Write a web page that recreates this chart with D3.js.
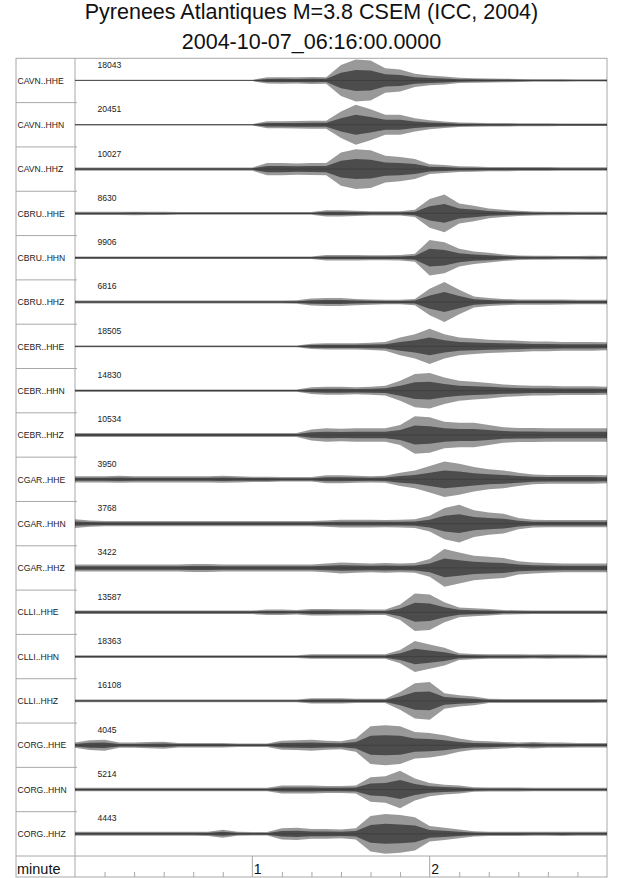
<!DOCTYPE html>
<html><head><meta charset="utf-8">
<script src="https://cdn.jsdelivr.net/npm/d3@7"></script>
<style>
html,body{margin:0;padding:0;background:#fff;}
svg{display:block;font-family:"Liberation Sans",Arial,Helvetica,sans-serif;}
</style></head>
<body>
<svg id="chart" width="640" height="878"></svg>
<script>
// ---------- data ----------
const titleLine1 = "Pyrenees Atlantiques M=3.8 CSEM (ICC, 2004)";
const titleLine2 = "2004-10-07_06:16:00.0000";
const channels = ["CAVN..HHE","CAVN..HHN","CAVN..HHZ","CBRU..HHE","CBRU..HHN","CBRU..HHZ",
  "CEBR..HHE","CEBR..HHN","CEBR..HHZ","CGAR..HHE","CGAR..HHN","CGAR..HHZ",
  "CLLI..HHE","CLLI..HHN","CLLI..HHZ","CORG..HHE","CORG..HHN","CORG..HHZ"];
const peakCounts = [18043,20451,10027,8630,9906,6816,18505,14830,10534,3950,3768,3422,13587,18363,16108,4045,5214,4443];
// time grid of the envelopes, seconds after 06:16:00
const timeSec = [0,5,10,15,20,25,30,35,40,45,50,55,60,65,70,75,80,85,90,95,100,105,110,115,120,125,130,135,140,145,150,155,160,165,170,175,180];
// trace envelope (half amplitude, % of half row height)
const envelopes = [
 [3,3,3,3,3,3,3,3,3,3,3,3,3,14,15,14,16,15,70,95,90,55,50,30,22,18,12,10,9,8,7,6,6,6,5,5,5],
 [3,3,3,3,3,3,3,3,3,3,3,3,3,16,16,17,18,18,60,90,70,45,45,30,20,15,10,9,8,8,7,7,7,6,6,6,6],
 [7,7,7,7,7,7,7,7,7,7,7,7,7,28,28,25,27,28,75,90,85,60,55,45,22,18,13,12,10,10,9,9,9,8,8,8,8],
 [7,7,7,7,8,7,7,6,6,6,6,6,6,6,6,6,6,14,14,12,10,10,10,16,65,85,45,35,22,16,12,9,8,8,7,7,7],
 [6,6,6,6,6,6,6,6,6,6,6,6,6,6,6,6,6,12,12,12,11,11,12,18,80,70,40,28,22,15,10,9,9,8,8,9,8],
 [7,7,7,7,7,7,7,7,7,7,7,7,7,7,7,8,16,18,18,14,12,10,10,14,60,90,55,25,18,14,12,12,12,11,10,10,10],
 [4,4,4,4,4,4,4,4,4,4,4,4,4,4,4,4,12,14,14,14,16,20,40,55,80,55,40,35,30,28,25,22,22,20,20,20,18],
 [5,5,5,5,5,5,5,5,5,5,5,5,5,5,5,5,15,18,18,16,18,22,45,75,80,60,45,40,35,28,25,22,22,20,20,20,18],
 [9,9,9,9,9,9,9,9,9,9,9,9,9,9,9,9,25,30,28,30,30,30,45,85,80,60,55,55,45,35,32,32,30,30,30,30,30],
 [14,14,14,16,14,14,14,14,14,14,16,14,12,12,10,10,10,18,18,16,14,16,30,40,60,80,70,55,45,40,30,22,20,20,20,20,18],
 [20,14,12,12,12,12,12,12,12,12,12,12,12,12,12,12,12,14,18,18,18,16,18,20,35,70,85,60,50,45,25,18,16,16,16,16,16],
 [16,16,16,16,16,16,16,16,18,18,16,16,16,16,16,16,16,20,25,22,20,22,20,22,40,85,70,55,50,45,30,25,22,20,20,20,20],
 [8,8,8,8,8,8,8,8,8,8,8,8,8,12,12,10,15,15,14,14,12,12,35,85,80,45,22,18,15,10,9,8,8,8,8,8,8],
 [6,6,6,6,6,6,6,6,6,6,6,6,6,6,6,6,10,10,10,10,10,10,30,70,55,40,15,12,10,10,10,9,10,9,9,8,8],
 [6,6,6,6,6,6,6,6,6,6,6,6,6,6,6,6,12,12,12,10,10,10,40,80,85,35,25,20,10,9,9,9,9,9,9,9,8],
 [12,22,25,12,12,14,16,10,10,10,10,8,8,8,20,22,25,20,18,30,85,90,85,60,55,45,30,20,18,15,12,15,12,12,10,10,10],
 [8,8,8,8,8,8,8,8,8,8,8,8,8,8,18,18,18,16,16,18,55,60,85,50,30,22,18,10,9,9,9,8,8,8,8,8,8],
 [9,9,9,9,9,9,9,9,9,10,18,9,8,8,25,28,22,22,20,25,80,90,85,75,35,28,20,12,10,10,10,9,9,10,9,9,9]
];
const minuteTicks = [1, 2];
const minuteTickLabels = ["1", "2"];
const minorTickSec = [10,20,30,40,50,70,80,90,100,110,130,140,150,160,170];

// ---------- layout ----------
const svg = d3.select("#chart");
const frameL = 16, frameR = 607, frameT = 58.3, axisTop = 856, frameB = 877, labelR = 75;
const rowH = (axisTop - frameT) / channels.length;
const gridColor = "#a8a8a8";

// title
svg.append("text").attr("x", 311.5).attr("y", 19).attr("text-anchor", "middle")
  .attr("font-size", 21.5).attr("fill", "#111").text(titleLine1);
svg.append("text").attr("x", 311.5).attr("y", 48.5).attr("text-anchor", "middle")
  .attr("font-size", 21.5).attr("fill", "#111").text(titleLine2);

// scales
const x = d3.scaleLinear().domain([0, 180]).range([labelR, frameR]);
const rowScale = d3.scaleBand().domain(channels).range([frameT, axisTop]).padding(0);
const amp = d3.scaleLinear().domain([-100, 100]).range([rowH / 2, -rowH / 2]);

// frame & grid
const g = svg.append("g");
g.append("rect").attr("x", frameL).attr("y", frameT).attr("width", frameR - frameL)
  .attr("height", frameB - frameT).attr("fill", "none").attr("stroke", gridColor).attr("stroke-width", 1);
g.append("line").attr("x1", labelR).attr("x2", labelR).attr("y1", frameT).attr("y2", frameB)
  .attr("stroke", gridColor);
channels.forEach((c, i) => {
  if (i === 0) return;
  const yy = rowScale(c);
  g.append("line").attr("x1", frameL).attr("x2", labelR + 2).attr("y1", yy).attr("y2", yy).attr("stroke", gridColor);
});
g.append("line").attr("x1", frameL).attr("x2", frameR).attr("y1", axisTop).attr("y2", axisTop).attr("stroke", gridColor);

// traces
const traces = svg.append("g");
channels.forEach((c, i) => {
  const cy = rowScale(c) + rowH / 2;
  const data = timeSec.map((t, k) => ({t: t, a: envelopes[i][k]}));
  const tg = traces.append("g").attr("transform", `translate(0,${cy})`);
  const outer = d3.area().x(d => x(d.t)).y0(d => amp(-d.a)).y1(d => amp(d.a)).curve(d3.curveLinear);
  const inner = d3.area().x(d => x(d.t)).y0(d => amp(-d.a * 0.5)).y1(d => amp(d.a * 0.5)).curve(d3.curveLinear);
  tg.append("path").datum(data).attr("d", outer).attr("fill", "#000").attr("fill-opacity", 0.4);
  tg.append("path").datum(data).attr("d", inner).attr("fill", "#000").attr("fill-opacity", 0.5);
  tg.append("line").attr("x1", x(0)).attr("x2", x(180)).attr("y1", amp(0)).attr("y2", amp(0))
    .attr("stroke", "#333").attr("stroke-width", 0.6).attr("stroke-opacity", 0.8);
  // labels
  svg.append("text").attr("x", 17.5).attr("y", cy + 3.2).attr("font-size", 8.6).attr("fill", "#222").text(c);
  svg.append("text").attr("x", 97.5).attr("y", rowScale(c) + 9.6).attr("font-size", 8.6).attr("fill", "#222").text(peakCounts[i]);
});

// bottom axis
svg.append("text").attr("x", 17).attr("y", 873.5).attr("font-size", 14.5).attr("fill", "#111").text("minute");
const minor = d3.axisTop(x).tickValues(minorTickSec).tickSize(5).tickFormat("");
const ax = svg.append("g").attr("transform", `translate(0,${frameB})`).call(minor);
ax.select(".domain").remove();
ax.selectAll(".tick line").attr("stroke", gridColor);
minuteTicks.forEach((m, k) => {
  const xx = x(m * 60);
  svg.append("line").attr("x1", xx).attr("x2", xx).attr("y1", axisTop).attr("y2", frameB).attr("stroke", gridColor);
  svg.append("text").attr("x", xx + 1.5).attr("y", 873.5).attr("font-size", 14).attr("fill", "#111").text(minuteTickLabels[k]);
});
</script>
</body></html>
